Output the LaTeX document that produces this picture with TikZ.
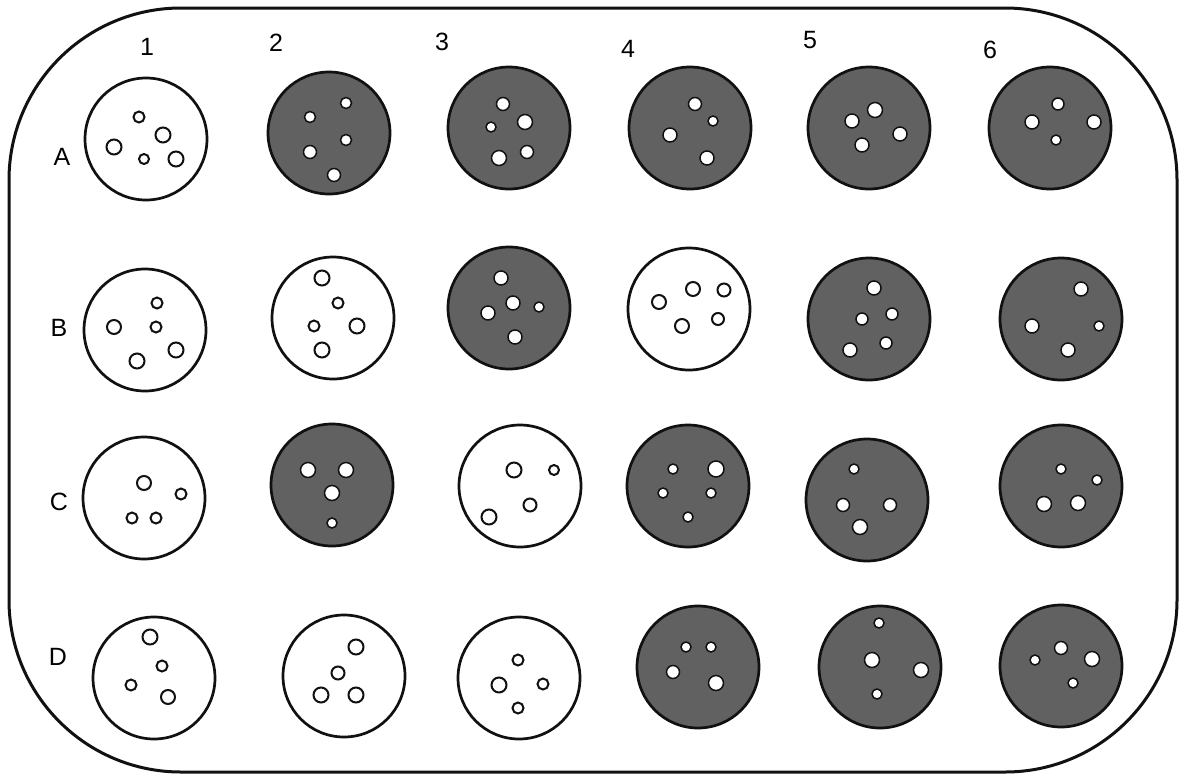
\documentclass[tikz,border=0pt]{standalone}
\usepackage{fontspec}
\setmainfont{Liberation Sans}
\usetikzlibrary{positioning}
\definecolor{platefill}{HTML}{616161}
\definecolor{framecolor}{HTML}{111111}

\begin{document}
\begin{tikzpicture}[
    x=1pt,y=-1pt,
    lab/.style={inner sep=0pt,font=\fontsize{25}{29}\selectfont},
    well/.style={circle,draw=framecolor,line width=2.7pt,minimum size=122pt,inner sep=0pt},
    stained/.style={well,fill=platefill},
    clear/.style={well,fill=white},
    col/.style={draw=framecolor,fill=white,line width=2pt},
    hole/.style={draw=framecolor,fill=white,line width=1.5pt},
  ]
    \useasboundingbox (0,0) rectangle (1188,777);
    \draw[framecolor,line width=3pt,rounded corners=172pt] (9,8) rectangle (1177,772);

    % column and row labels
    \foreach \n/\x/\y in {1/147/47,2/276/43,3/442/42,4/628/49,5/810/40,6/990/50}
      \node[lab] (col\n) at (\x,\y) {\n};
    \foreach \n/\x/\y in {A/62/157,B/59/328,C/59/502,D/58/657}
      \node[lab] (row\n) at (\x,\y) {\n};

    % wells
    \foreach \n/\x/\y/\s in {A1/146/139/clear,A2/329/133/stained,A3/509/128/stained,A4/690/128/stained,A5/869/128/stained,A6/1050/128/stained,
        B1/145/330/clear,B2/333/318/clear,B3/509/308/stained,B4/689/309/clear,B5/869/319/stained,B6/1061/319/stained,
        C1/144/498/clear,C2/332/485/stained,C3/520/486/clear,C4/688/486/stained,C5/867/500/stained,C6/1061/486/stained,
        D1/154/678/clear,D2/344/676/clear,D3/519/678/clear,D4/698/667/stained,D5/880/667/stained,D6/1061/666/stained}
      \node[\s] (\n) at (\x,\y) {};

    % colonies, clear wells
    \foreach \x/\y/\r in {139/117/5.5,163/135/7.5,114/147/7.5,144/159/5,176/159/7.5,
        157/303/5.5,114/327/7,156/327/5.5,137/361/7.5,176/350/7.5,
        322/278/7.5,338/303/5.5,314/326/5.5,357/326/7.5,322/350/7.5,
        659/302/7,693/289/7,724/290/6.5,682/326/7,718/319/6,
        144/483/7,181/494/5.5,132/518/5.5,156/518/5.5,
        514/470/7.5,554/470/5,530/505/6.5,489/517/7.5,
        150/637/7.5,162/666/5.5,131/685/5.5,168/697/7,
        356/647/7.5,338/673/6.5,321/695/7.5,356/695/7.5,
        518/660/5.5,499/685/7.5,543/684/5.5,518/708/5.5}
      \draw[col] (\x,\y) circle (\r);

    % colonies, stained wells
    \foreach \x/\y/\r in {346/103/5.5,310/117/5.5,346/140/5.5,310/152/6.5,334/175/6.5,
        503/104/6.5,491/127/5,525/122/7.5,499/158/7.5,527/152/6.5,
        695/104/6.5,713/121/5,670/135/7,707/158/7,
        875/110/7.5,852/121/7,900/134/7,862/145/7,
        1058/104/6,1032/122/7,1094/122/7,1056/140/5,
        501/278/7,513/303/7,488/313/7,539/307/5,515/337/7,
        874/288/7,862/319/6,892/314/6,850/350/7,886/343/6,
        1081/289/7,1032/326/7,1099/326/5,1068/350/7,
        308/470/7.5,346/470/7.5,332/493/7.5,332/523/5,
        673/469/5,716/469/8,663/493/5,711/493/5,688/517/5,
        854/469/5,843/505/6.5,890/505/6.5,860/527/7.5,
        1061/469/5,1097/480/5,1044/504/7.5,1078/503/7.5,
        686/647/5,711/647/5,673/672/6.5,716/683/7.5,
        879/623/5,872/660/7.5,921/670/7.5,877/694/5,
        1061/648/6.5,1035/660/5,1092/659/7.5,1073/683/5}
      \draw[hole] (\x,\y) circle (\r);
  \end{tikzpicture}
\end{document}
